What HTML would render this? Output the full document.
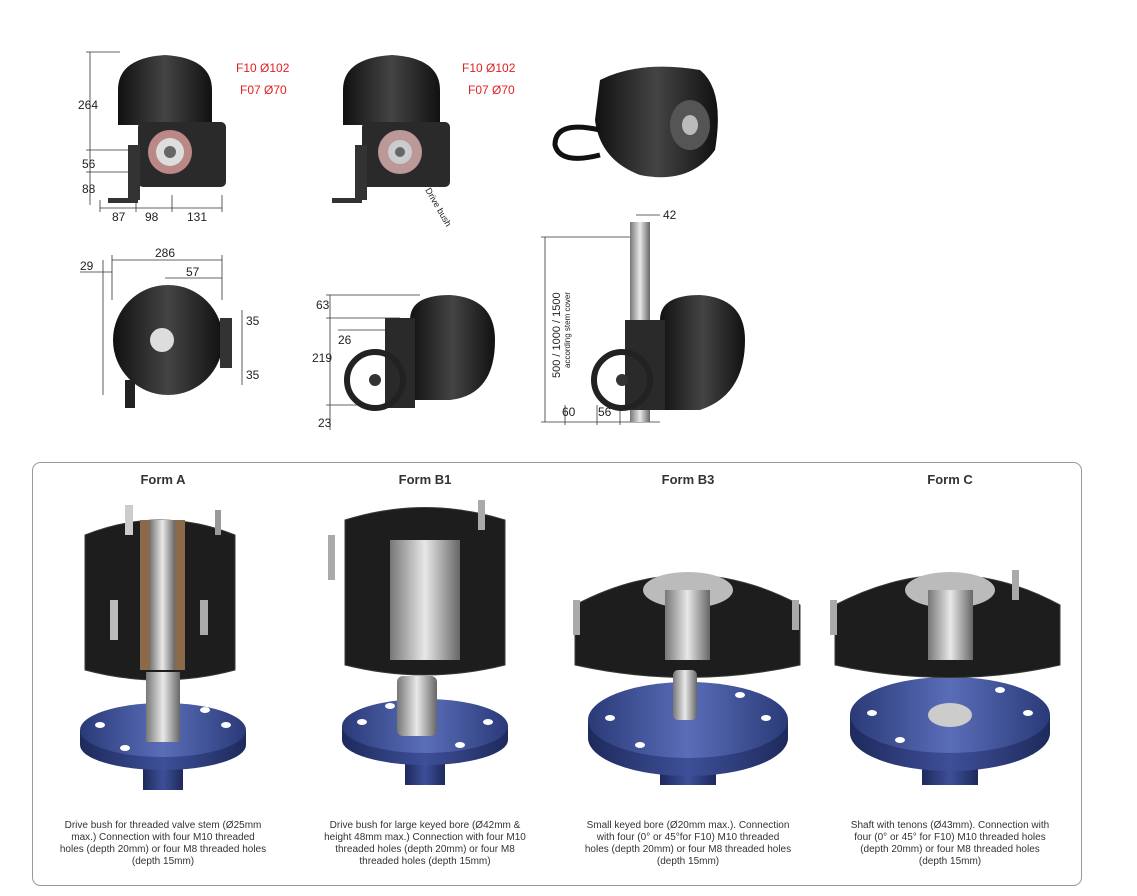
<!DOCTYPE html>
<html><head><meta charset="utf-8"><style>
body{margin:0;background:#fff;width:1137px;height:896px;overflow:hidden;font-family:"Liberation Sans",Arial,sans-serif}
svg{position:absolute;left:0;top:0}
</style></head><body>
<svg width="1137" height="896" viewBox="0 0 1137 896" font-family="Liberation Sans, Arial, sans-serif">
<defs>
<linearGradient id="blk" x1="0" x2="1"><stop offset="0" stop-color="#111"/><stop offset=".5" stop-color="#444"/><stop offset="1" stop-color="#111"/></linearGradient>
<linearGradient id="blu" x1="0" x2="1"><stop offset="0" stop-color="#2a3a78"/><stop offset=".5" stop-color="#5a6db8"/><stop offset="1" stop-color="#2a3a78"/></linearGradient>
<linearGradient id="blu2" x1="0" x2="1"><stop offset="0" stop-color="#1e2a5c"/><stop offset=".5" stop-color="#3e4f98"/><stop offset="1" stop-color="#1e2a5c"/></linearGradient>
<linearGradient id="met" x1="0" x2="1"><stop offset="0" stop-color="#777"/><stop offset=".5" stop-color="#e8e8e8"/><stop offset="1" stop-color="#666"/></linearGradient>
</defs>
<g stroke="#333" stroke-width="0.8" fill="none">
<line x1="90" y1="52" x2="90" y2="205"/><line x1="86" y1="52" x2="120" y2="52"/><line x1="86" y1="150" x2="140" y2="150"/><line x1="86" y1="172" x2="130" y2="172"/>
<line x1="100" y1="208" x2="222" y2="208"/><line x1="100" y1="200" x2="100" y2="212"/><line x1="136" y1="200" x2="136" y2="212"/><line x1="172" y1="195" x2="172" y2="212"/><line x1="222" y1="195" x2="222" y2="212"/>
<line x1="103" y1="260" x2="103" y2="395"/><line x1="112" y1="260" x2="222" y2="260"/><line x1="112" y1="255" x2="112" y2="300"/><line x1="222" y1="255" x2="222" y2="300"/>
<line x1="80" y1="272" x2="112" y2="272"/><line x1="165" y1="278" x2="222" y2="278"/>
<line x1="242" y1="310" x2="242" y2="385"/>
<line x1="330" y1="295" x2="330" y2="430"/><line x1="326" y1="295" x2="420" y2="295"/><line x1="326" y1="318" x2="400" y2="318"/><line x1="338" y1="330" x2="400" y2="330"/><line x1="326" y1="405" x2="360" y2="405"/>
<line x1="545" y1="237" x2="545" y2="422"/><line x1="541" y1="237" x2="635" y2="237"/><line x1="541" y1="422" x2="660" y2="422"/><line x1="636" y1="215" x2="660" y2="215"/>
<line x1="565" y1="405" x2="565" y2="425"/><line x1="597" y1="405" x2="597" y2="425"/><line x1="620" y1="405" x2="620" y2="425"/>
<line x1="420" y1="170" x2="440" y2="185"/>
</g>
<path d="M118 90 Q118 58 165 55 Q212 58 212 90 L212 125 L118 125Z" fill="url(#blk)"/>
<rect x="138" y="122" width="88" height="65" rx="5" fill="#2a2a2a"/>
<circle cx="170" cy="152" r="22" fill="#b88" /><circle cx="170" cy="152" r="14" fill="#ddd"/><circle cx="170" cy="152" r="6" fill="#666"/>
<rect x="128" y="145" width="12" height="55" fill="#333"/><rect x="108" y="198" width="30" height="5" fill="#333"/>
<path d="M343 90 Q343 58 392 55 Q440 58 440 90 L440 125 L343 125Z" fill="url(#blk)"/>
<rect x="362" y="122" width="88" height="65" rx="5" fill="#2a2a2a"/>
<circle cx="400" cy="152" r="22" fill="#b99"/><circle cx="400" cy="152" r="12" fill="#ccc"/><circle cx="400" cy="152" r="5" fill="#666"/>
<rect x="355" y="145" width="12" height="55" fill="#333"/><rect x="332" y="198" width="30" height="5" fill="#333"/>
<path d="M600 80 Q640 60 700 70 Q725 90 715 150 Q690 185 640 175 Q600 160 595 120Z" fill="url(#blk)"/>
<ellipse cx="690" cy="125" rx="20" ry="25" fill="#555"/><ellipse cx="690" cy="125" rx="8" ry="10" fill="#bbb"/>
<path d="M600 130 Q555 120 555 145 Q560 165 600 155" stroke="#111" stroke-width="5" fill="none"/>
<circle cx="168" cy="340" r="55" fill="url(#blk)"/><rect x="125" y="380" width="10" height="28" fill="#222"/>
<rect x="220" y="318" width="12" height="50" fill="#333"/>
<circle cx="162" cy="340" r="12" fill="#ddd"/>
<path d="M410 320 Q410 295 450 295 Q495 298 495 340 Q495 395 450 400 L410 400Z" fill="url(#blk)"/>
<rect x="385" y="318" width="30" height="90" fill="#2a2a2a"/>
<circle cx="375" cy="380" r="28" fill="none" stroke="#222" stroke-width="6"/><circle cx="375" cy="380" r="6" fill="#333"/>
<rect x="630" y="222" width="20" height="200" fill="url(#met)"/>
<path d="M660 320 Q660 295 700 295 Q745 298 745 340 Q745 395 700 410 L660 410Z" fill="url(#blk)"/>
<rect x="625" y="320" width="40" height="90" fill="#2a2a2a"/>
<circle cx="622" cy="380" r="28" fill="none" stroke="#222" stroke-width="6"/><circle cx="622" cy="380" r="6" fill="#333"/>
<g font-size="12" fill="#222">
<text x="78" y="109">264</text><text x="82" y="168">56</text><text x="82" y="193">88</text>
<text x="112" y="221">87</text><text x="145" y="221">98</text><text x="187" y="221">131</text>
<text x="80" y="270">29</text><text x="155" y="257">286</text><text x="186" y="276">57</text>
<text x="246" y="325">35</text><text x="246" y="379">35</text>
<text x="316" y="309">63</text><text x="338" y="344">26</text><text x="312" y="362">219</text><text x="318" y="427">23</text>
<text x="663" y="219">42</text><text x="562" y="416">60</text><text x="598" y="416">56</text>
<text transform="translate(560,378) rotate(-90)" font-size="11">500 / 1000 / 1500</text>
<text transform="translate(570,368) rotate(-90)" font-size="8">according stem cover</text>
<text transform="translate(425,190) rotate(60)" font-size="9">Drive bush</text>
</g>
<g font-size="12" fill="#e02020">
<text x="236" y="72">F10  Ø102</text><text x="240" y="94">F07  Ø70</text>
<text x="462" y="72">F10  Ø102</text><text x="468" y="94">F07  Ø70</text>
</g>
<rect x="32.5" y="462.5" width="1049" height="423" rx="8" fill="none" stroke="#999"/>
<g font-size="13" font-weight="bold" fill="#333" text-anchor="middle">
<text x="163" y="484">Form A</text><text x="425" y="484">Form B1</text><text x="688" y="484">Form B3</text><text x="950" y="484">Form C</text>
</g>
<!-- Form A -->
<rect x="143" y="750" width="40" height="40" fill="url(#blu2)"/>
<path d="M80 730 L80 745 A83 25 0 0 0 246 745 L246 730Z" fill="url(#blu2)"/>
<ellipse cx="163" cy="730" rx="83" ry="27" fill="url(#blu)"/>
<g fill="#fff"><ellipse cx="100" cy="725" rx="5" ry="3"/><ellipse cx="226" cy="725" rx="5" ry="3"/><ellipse cx="125" cy="748" rx="5" ry="3"/><ellipse cx="205" cy="710" rx="5" ry="3"/></g>
<path d="M85 535 Q160 505 235 535 L235 670 Q160 690 85 670Z" fill="#1d1d1d" stroke="#3a3a3a"/>
<rect x="125" y="505" width="8" height="30" fill="#ccc"/><rect x="215" y="510" width="6" height="25" fill="#999"/><rect x="110" y="600" width="8" height="40" fill="#bbb"/><rect x="200" y="600" width="8" height="35" fill="#aaa"/>
<rect x="140" y="520" width="45" height="150" fill="#8a6a4a"/><rect x="150" y="520" width="25" height="150" fill="url(#met)"/>
<rect x="146" y="672" width="34" height="70" fill="url(#met)"/>
<!-- Form B1 -->
<rect x="405" y="745" width="40" height="40" fill="url(#blu2)"/>
<path d="M342 726 L342 740 A83 25 0 0 0 508 740 L508 726Z" fill="url(#blu2)"/>
<ellipse cx="425" cy="726" rx="83" ry="27" fill="url(#blu)"/>
<g fill="#fff"><ellipse cx="362" cy="722" rx="5" ry="3"/><ellipse cx="488" cy="722" rx="5" ry="3"/><ellipse cx="460" cy="745" rx="5" ry="3"/><ellipse cx="390" cy="706" rx="5" ry="3"/></g>
<path d="M345 520 Q425 495 505 520 L505 665 Q425 685 345 665Z" fill="#1d1d1d" stroke="#3a3a3a"/>
<rect x="328" y="535" width="7" height="45" fill="#aaa"/><rect x="478" y="500" width="7" height="30" fill="#aaa"/>
<rect x="390" y="540" width="70" height="120" fill="url(#met)"/>
<rect x="397" y="676" width="40" height="60" rx="6" fill="url(#met)"/>
<!-- Form B3 -->
<rect x="660" y="750" width="56" height="35" fill="url(#blu2)"/>
<path d="M588 720 L588 738 A100 38 0 0 0 788 738 L788 720Z" fill="url(#blu2)"/>
<ellipse cx="688" cy="720" rx="100" ry="38" fill="url(#blu)"/>
<g fill="#fff"><ellipse cx="610" cy="718" rx="5" ry="3"/><ellipse cx="766" cy="718" rx="5" ry="3"/><ellipse cx="640" cy="745" rx="5" ry="3"/><ellipse cx="740" cy="695" rx="5" ry="3"/></g>
<path d="M575 605 Q688 545 800 605 L800 665 Q688 690 575 665Z" fill="#1d1d1d" stroke="#3a3a3a"/>
<rect x="573" y="600" width="7" height="35" fill="#aaa"/><rect x="792" y="600" width="7" height="30" fill="#aaa"/>
<ellipse cx="688" cy="590" rx="45" ry="18" fill="#bbb"/><rect x="665" y="590" width="45" height="70" fill="url(#met)"/>
<rect x="673" y="670" width="24" height="50" rx="5" fill="url(#met)"/>
<!-- Form C -->
<rect x="922" y="750" width="56" height="35" fill="url(#blu2)"/>
<path d="M850 715 L850 733 A100 38 0 0 0 1050 733 L1050 715Z" fill="url(#blu2)"/>
<ellipse cx="950" cy="715" rx="100" ry="38" fill="url(#blu)"/>
<g fill="#fff"><ellipse cx="872" cy="713" rx="5" ry="3"/><ellipse cx="1028" cy="713" rx="5" ry="3"/><ellipse cx="900" cy="740" rx="5" ry="3"/><ellipse cx="1000" cy="690" rx="5" ry="3"/></g>
<ellipse cx="950" cy="715" rx="22" ry="12" fill="#ccc"/>
<path d="M835 605 Q950 545 1060 605 L1060 665 Q950 690 835 665Z" fill="#1d1d1d" stroke="#3a3a3a"/>
<rect x="830" y="600" width="7" height="35" fill="#aaa"/><rect x="1012" y="570" width="7" height="30" fill="#aaa"/>
<ellipse cx="950" cy="590" rx="45" ry="18" fill="#bbb"/><rect x="928" y="590" width="45" height="70" fill="url(#met)"/>
<g font-size="10" fill="#333" text-anchor="middle">
<text x="163" y="828">Drive bush for threaded valve stem (Ø25mm</text><text x="163" y="840">max.) Connection with four M10 threaded</text><text x="163" y="852">holes (depth 20mm) or four M8 threaded holes</text><text x="163" y="864">(depth 15mm)</text>
<text x="425" y="828">Drive bush for large keyed bore (Ø42mm &amp;</text><text x="425" y="840">height 48mm max.) Connection with four M10</text><text x="425" y="852">threaded holes (depth 20mm) or four M8</text><text x="425" y="864">threaded holes (depth 15mm)</text>
<text x="688" y="828">Small keyed bore (Ø20mm max.). Connection</text><text x="688" y="840">with four (0° or 45°for F10) M10 threaded</text><text x="688" y="852">holes (depth 20mm) or four M8 threaded holes</text><text x="688" y="864">(depth 15mm)</text>
<text x="950" y="828">Shaft with tenons (Ø43mm). Connection with</text><text x="950" y="840">four (0° or 45° for F10) M10 threaded holes</text><text x="950" y="852">(depth 20mm) or four M8 threaded holes</text><text x="950" y="864">(depth 15mm)</text>
</g>
</svg>
</body></html>
